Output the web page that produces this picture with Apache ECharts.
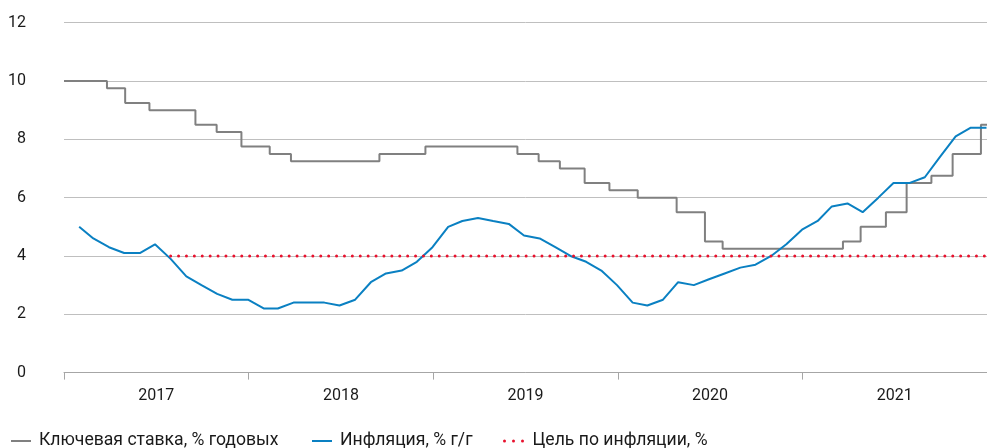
<!DOCTYPE html>
<html>
<head>
<meta charset="utf-8">
<script src="https://cdn.jsdelivr.net/npm/echarts@6/dist/echarts.min.js"></script>
<style>
html,body{margin:0;padding:0;background:#fff;}
#chart{width:987px;height:448px;}
</style>
</head>
<body>
<div id="chart"></div>
<script>
// ---- Data ----
const yearLabels = ['2017', '2018', '2019', '2020', '2021'];
const yTicks = [0, 2, 4, 6, 8, 10, 12];

// Key rate: decision effective dates and new level
const rateDates = ['2017-01-01','2017-03-27','2017-05-02','2017-06-19','2017-09-18','2017-10-30','2017-12-18',
  '2018-02-12','2018-03-26','2018-09-17','2018-12-17','2019-06-17','2019-07-29','2019-09-09','2019-10-28',
  '2019-12-16','2020-02-10','2020-04-27','2020-06-22','2020-07-27','2021-03-22','2021-04-26','2021-06-15',
  '2021-07-26','2021-09-13','2021-10-25','2021-12-20','2022-01-01'];
const rateValues = [10, 9.75, 9.25, 9.0, 8.5, 8.25, 7.75,
  7.5, 7.25, 7.5, 7.75, 7.5, 7.25, 7.0, 6.5,
  6.25, 6.0, 5.5, 4.5, 4.25, 4.5, 5.0, 5.5,
  6.5, 6.75, 7.5, 8.5, 8.5];

// Inflation, % y/y, monthly (Jan 2017 .. Dec 2021)
const inflationMonths = [];
['2017','2018','2019','2020','2021'].forEach(y => { for (let m = 1; m <= 12; m++) inflationMonths.push(y + '-' + String(m).padStart(2,'0')); });
const inflationValues = [
  5.0, 4.6, 4.3, 4.1, 4.1, 4.4, 3.9, 3.3, 3.0, 2.7, 2.5, 2.5,
  2.2, 2.2, 2.4, 2.4, 2.4, 2.3, 2.5, 3.1, 3.4, 3.5, 3.8, 4.3,
  5.0, 5.2, 5.3, 5.2, 5.1, 4.7, 4.6, 4.3, 4.0, 3.8, 3.5, 3.0,
  2.4, 2.3, 2.5, 3.1, 3.0, 3.2, 3.4, 3.6, 3.7, 4.0, 4.4, 4.9,
  5.2, 5.7, 5.8, 5.5, 6.0, 6.5, 6.5, 6.7, 7.4, 8.1, 8.4, 8.4
];

// Inflation target
const targetMonths = ['2017-07', '2021-12'];
const targetValues = [4, 4];

const seriesNames = ['Ключевая ставка, % годовых', 'Инфляция, % г/г', 'Цель по инфляции, %'];

// ---- helpers ----
function dayTs(s){ const p = s.split('-').map(Number); return Date.UTC(p[0], p[1]-1, p[2]); }
function monthEndTs(s){ const p = s.split('-').map(Number); return Date.UTC(p[0], p[1], 0); }

const rateData = rateDates.map((d,i) => [dayTs(d), rateValues[i]]);
const inflData = inflationMonths.map((d,i) => [monthEndTs(d), inflationValues[i]]);
const targetData = targetMonths.map((d,i) => [monthEndTs(d), targetValues[i]]);

const FONT = 'Roboto';
const chart = echarts.init(document.getElementById('chart'), null, {renderer:'canvas'});
const legendText = {fontSize:17.6, color:'#1a1a1a', fontFamily:FONT, padding:[0,0,0,3]};
const legendBase = {top:432, padding:0, itemWidth:20, itemHeight:14, textStyle:legendText, itemStyle:{opacity:0}};
chart.setOption({
  animation:false,
  backgroundColor:'#fff',
  grid:{left:64, right:-4.5, top:22.7, bottom:75.4, containLabel:false},
  legend:[
    Object.assign({data:[seriesNames[0]], left:10}, legendBase),
    Object.assign({data:[seriesNames[1]], left:311}, legendBase),
    Object.assign({data:[seriesNames[2]], left:503, lineStyle:{type:[0,9], cap:'round', width:3}}, legendBase)
  ],
  xAxis:[
    {type:'time', min:dayTs('2017-01-01'), max:dayTs('2022-01-01'), show:false},
    {type:'category', data:yearLabels, boundaryGap:true, position:'bottom',
     axisLine:{show:true, lineStyle:{color:'#a6a6a6', width:1}},
     axisTick:{show:true, length:7, lineStyle:{color:'#a6a6a6'}},
     axisLabel:{fontSize:16, color:'#1a1a1a', fontFamily:FONT, margin:15},
     splitLine:{show:false}}
  ],
  yAxis:{type:'value', min:yTicks[0], max:yTicks[yTicks.length-1], interval:2,
    axisLine:{show:false}, axisTick:{show:false},
    axisLabel:{fontSize:16, color:'#1a1a1a', fontFamily:FONT, margin:38},
    splitLine:{lineStyle:{color:'#bfbfbf', width:1}}},
  series:[
    {name:seriesNames[0], type:'line', xAxisIndex:0, step:'end', data:rateData, symbol:'none',
     lineStyle:{color:'#808080', width:2}, itemStyle:{color:'#808080'}},
    {name:seriesNames[1], type:'line', xAxisIndex:0, data:inflData, symbol:'none',
     lineStyle:{color:'#0a80c2', width:2}, itemStyle:{color:'#0a80c2'}},
    {name:seriesNames[2], type:'line', xAxisIndex:0, data:targetData, symbol:'none',
     lineStyle:{color:'#e8112d', width:3, type:[0,7.9], cap:'round'}, itemStyle:{color:'#e8112d'}}
  ]
});
</script>
</body>
</html>
